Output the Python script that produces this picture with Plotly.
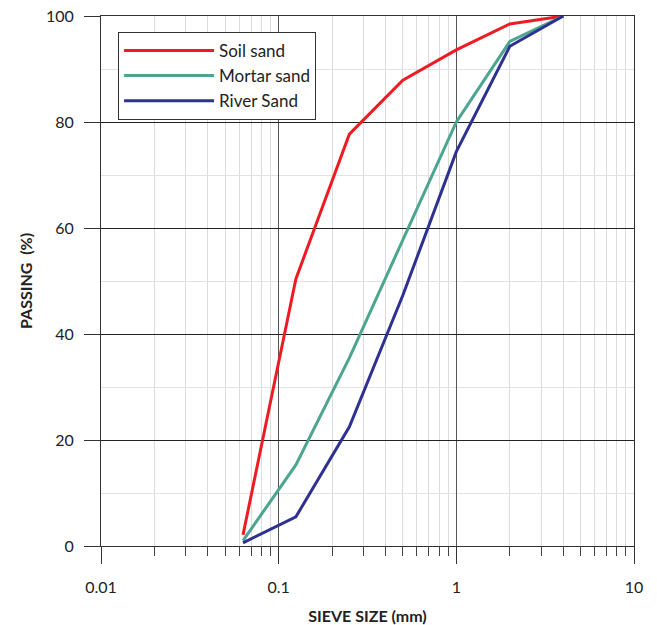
import plotly.graph_objects as go

sieve_mm = [0.063, 0.125, 0.25, 0.5, 1, 2, 4]
soil_sand = [2.1, 50.4, 77.7, 87.9, 93.6, 98.5, 100]
mortar_sand = [1.0, 15.3, 35.5, 57.8, 80.0, 95.2, 100]
river_sand = [0.6, 5.5, 22.5, 47.3, 74.4, 94.3, 100]

series_names = ["Soil sand", "Mortar sand", "River Sand"]
series_vals = [soil_sand, mortar_sand, river_sand]
colors = ["#ED1C24", "#4BA58F", "#2E3192"]

x_tickvals = [0.01, 0.1, 1, 10]
x_ticktext = ["0.01", "0.1", "1", "10"]
y_tickvals = [0, 20, 40, 60, 80, 100]

FONT = "Lato, 'Open Sans', sans-serif"

fig = go.Figure()
for name, vals, c in zip(series_names, series_vals, colors):
    fig.add_trace(go.Scatter(x=sieve_mm, y=vals, mode="lines", name=name,
                             line=dict(color=c, width=3)))

fig.update_layout(
    width=657, height=625,
    margin=dict(l=101, r=23, t=16, b=79),
    paper_bgcolor="white", plot_bgcolor="white",
    font=dict(family=FONT, size=16, color="#222"),
    legend=dict(x=0.032, y=0.97, xanchor="left", yanchor="top",
                bordercolor="#333", borderwidth=1, bgcolor="white",
                font=dict(size=17, color="#222"), itemwidth=90,
                tracegroupgap=0),
)

fig.update_xaxes(
    type="log", range=[-2, 1], automargin=False,
    tickvals=x_tickvals, ticktext=x_ticktext,
    ticks="outside", ticklen=17, tickcolor="#333", tickwidth=1,
    ticklabelstandoff=10, ticklabeloverflow="allow",
    showline=True, linecolor="#333", linewidth=1, mirror=True,
    showgrid=True, gridcolor="#555", gridwidth=1,
    minor=dict(dtick="D1", ticks="outside", ticklen=9, tickcolor="#444",
               showgrid=True, gridcolor="#dcdcdc", gridwidth=1),
    title=dict(text="<b>SIEVE SIZE (mm)</b>", standoff=15,
               font=dict(size=16, color="#222")),
    tickfont=dict(size=16, color="#222"),
    zeroline=False,
)
fig.update_yaxes(
    range=[0, 100], tickvals=y_tickvals, automargin=False,
    ticks="outside", ticklen=16, tickcolor="#333", tickwidth=1,
    ticklabelstandoff=7, ticklabeloverflow="allow",
    showline=True, linecolor="#333", linewidth=1, mirror=True,
    showgrid=True, gridcolor="#222", gridwidth=1,
    minor=dict(dtick=10, showgrid=True, gridcolor="#e2e2e2", gridwidth=1),
    title=dict(text="<b>PASSING  (%)</b>", standoff=9,
               font=dict(size=16, color="#222")),
    tickfont=dict(size=16, color="#222"),
    zeroline=False,
)

fig.write_html("out.html", config={"displayModeBar": False},
               post_script="document.body.style.margin='0';")
